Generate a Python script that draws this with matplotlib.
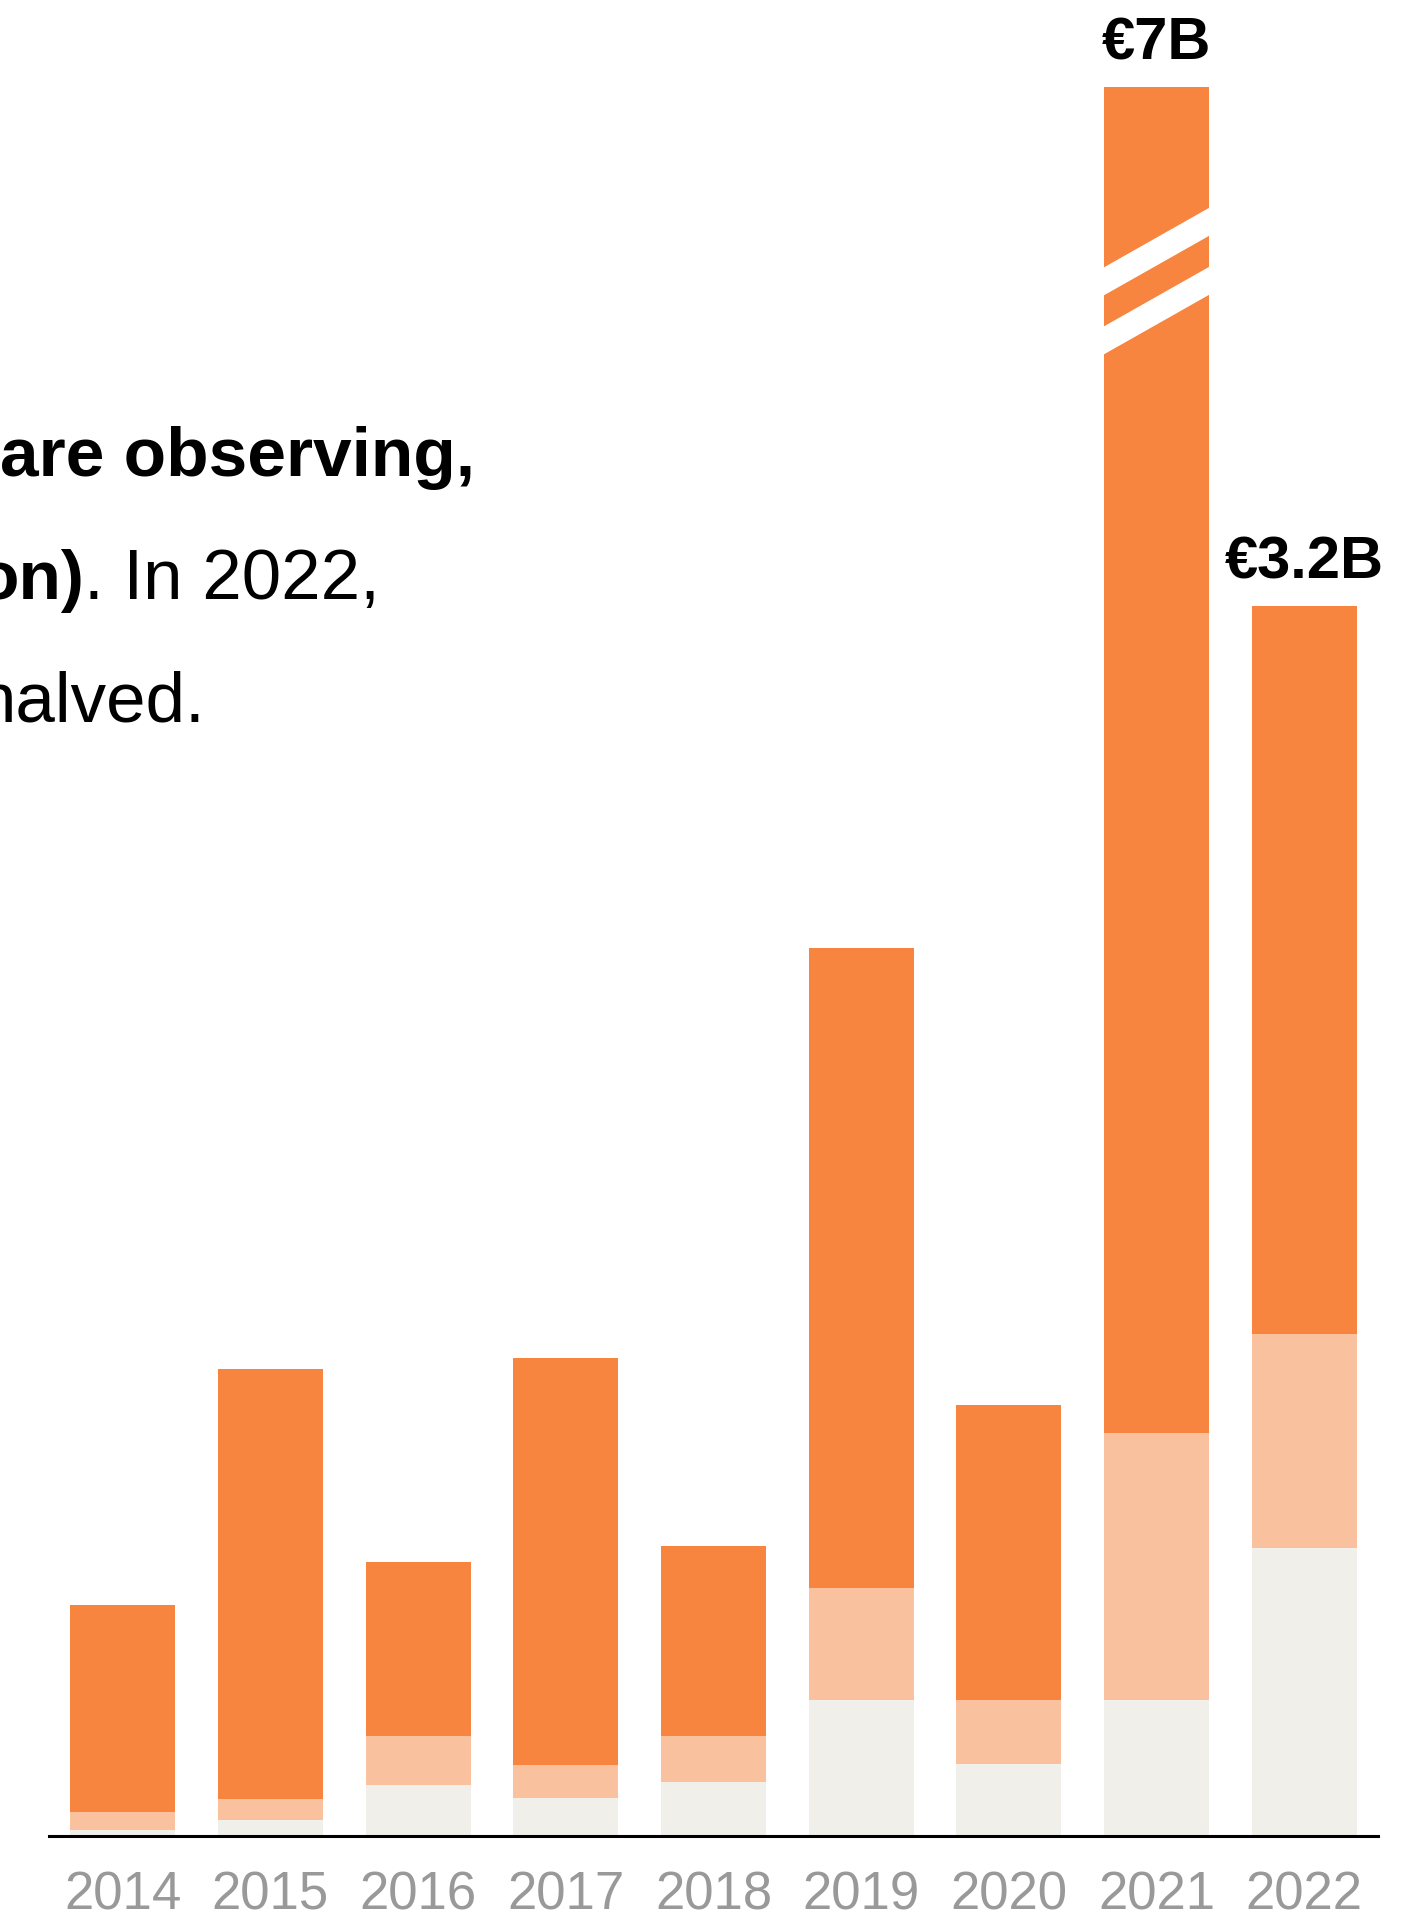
import numpy as np
import matplotlib.pyplot as plt

plt.rcParams['font.family'] = ['Liberation Sans', 'DejaVu Sans']

# values, in billions of euros
years = ['2014', '2015', '2016', '2017', '2018', '2019', '2020', '2021', '2022']
seg_base = [0.016, 0.042, 0.133, 0.099, 0.140, 0.354, 0.188, 0.354, 0.749]
seg_mid = [0.046, 0.054, 0.128, 0.086, 0.121, 0.290, 0.166, 0.695, 0.558]
seg_top = [0.538, 1.119, 0.453, 1.058, 0.494, 1.666, 0.768, 5.951, 1.893]
labelled = ['2021', '2022']

# axis break: bars taller than this get cut and drawn with a break mark
break_at = 4.55
break_mid = 4.045

c_top = '#f7843f'
c_mid = '#fac19e'
c_base = '#f0efe9'

W, H = 1415, 1921
fig = plt.figure(figsize=(W / 100, H / 100), dpi=100)
ax = fig.add_axes([49 / W, 85 / H, 1329 / W, (H - 85) / H])

x = np.arange(len(years))
bw = 0.71
base = np.array(seg_base)
mid = np.array(seg_mid)
top = np.array(seg_top)
total = base + mid + top
shown_top = np.minimum(total, break_at) - base - mid

ax.bar(x, base, bw, color=c_base, linewidth=0)
ax.bar(x, mid, bw, bottom=base, color=c_mid, linewidth=0)
ax.bar(x, shown_top, bw, bottom=base + mid, color=c_top, linewidth=0)

# break stripes
rise = 0.1587
thick = 0.0728
gap = 0.1535
for i in x:
    if total[i] > break_at:
        l, r = i - bw / 2 - 0.01, i + bw / 2 + 0.01
        for c in (break_mid - gap / 2, break_mid + gap / 2):
            yl, yr = c - rise / 2, c + rise / 2
            ax.fill([l, r, r, l], [yl - thick / 2, yr - thick / 2, yr + thick / 2, yl + thick / 2],
                    color='white', linewidth=0, zorder=3)

for i, y in enumerate(years):
    if y in labelled:
        ax.annotate(f"€{round(total[i], 1):g}B", (i, base[i] + mid[i] + shown_top[i]),
                    xytext=(0, 20), textcoords='offset points', ha='center', va='baseline',
                    fontsize=43, fontweight='bold', color='black')

ax.set_xlim(-0.5, len(years) - 0.5)
ax.set_ylim(0, 1836 / 384.4)
ax.set_xticks(x)
ax.set_xticklabels(years, fontsize=38, color='#999999')
ax.tick_params(axis='x', length=0, pad=25)
ax.set_yticks([])
for s in ['top', 'left', 'right']:
    ax.spines[s].set_visible(False)
ax.spines['bottom'].set_linewidth(2.2)
ax.spines['bottom'].set_color('black')
ax.patch.set_alpha(0)

# cut-off text block on the left
def fx(px):
    return px / W

def fy(py):
    return 1 - py / H

fig.text(fx(475), fy(476), 'are observing,', ha='right', va='baseline', fontsize=50, fontweight='bold')
fig.text(fx(84), fy(599), 'on)', ha='right', va='baseline', fontsize=50, fontweight='bold')
fig.text(fx(84), fy(599), '. In 2022,', ha='left', va='baseline', fontsize=51)
fig.text(fx(205), fy(722), 'halved.', ha='right', va='baseline', fontsize=51)

fig.savefig('out.png', dpi=100)
